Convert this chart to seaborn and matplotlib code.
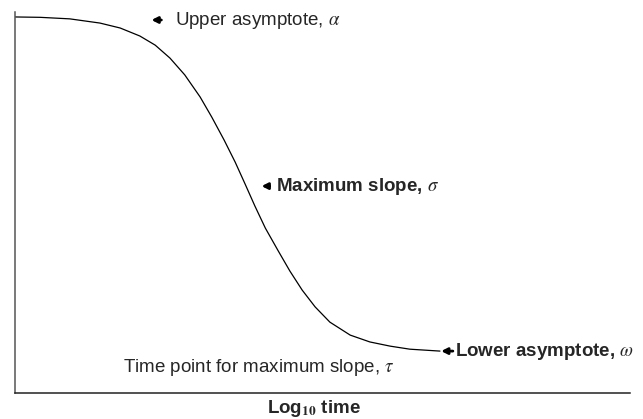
import matplotlib
matplotlib.use("Agg")
import matplotlib.pyplot as plt
import seaborn as sns
import pandas as pd

# Curve (arbitrary units: log10 time vs response)
log_time = [0, 0.41, 0.89, 1.38, 1.71, 2.03, 2.28, 2.52, 2.76, 3.01, 3.20, 3.40,
            3.58, 3.74, 3.90, 4.07, 4.28, 4.47, 4.67, 4.88, 5.12, 5.45, 5.77,
            6.10, 6.42, 6.91]
response = [9.87, 9.86, 9.82, 9.71, 9.58, 9.37, 9.13, 8.79, 8.35, 7.77, 7.24, 6.64,
            6.06, 5.49, 4.91, 4.33, 3.73, 3.20, 2.70, 2.26, 1.86, 1.52, 1.34,
            1.23, 1.15, 1.10]
tau = [3.77]
tick_labels = [""]

sns.set_style("white")
plt.rcParams["font.family"] = ["Liberation Sans", "DejaVu Sans"]
plt.rcParams["mathtext.fontset"] = "stix"

df = pd.DataFrame({"log_time": log_time, "response": response})

fig = plt.figure(figsize=(6.43, 4.19), dpi=100)
ax = fig.add_axes([15 / 643, 26 / 419, 615 / 643, 381 / 419])
sns.lineplot(data=df, x="log_time", y="response", sort=False, estimator=None,
             color="black", linewidth=0.9, ax=ax)
ax.set_xlim(0, 10)
ax.set_ylim(0, 10)
sns.despine(ax=ax)
ax.spines["left"].set_color("#555555")
ax.spines["bottom"].set_color("#222222")
for s in ["left", "bottom"]:
    ax.spines[s].set_linewidth(1.1)
ax.set_xticks(tau)
ax.set_xticklabels(tick_labels)
ax.set_yticks([])
ax.tick_params(axis="x", direction="in", length=7, width=0.9, color="#333333")
ax.set_xlabel("")
ax.set_ylabel("")

fs = 13.5
arrow = dict(arrowstyle="-|>,head_length=0.35,head_width=0.18", lw=2.0,
             color="black", shrinkA=0, shrinkB=0)

ax.annotate("", xy=(2.22, 9.79), xytext=(2.38, 9.79), arrowprops=arrow)
ax.text(2.60, 9.79, "Upper asymptote, $\\alpha$", fontsize=fs,
        va="center", ha="left")

ax.annotate("", xy=(4.01, 5.43), xytext=(4.14, 5.43), arrowprops=arrow)
ax.text(4.24, 5.43, "Maximum slope, $\\sigma$", fontsize=fs,
        fontweight="bold", va="center", ha="left")

ax.annotate("", xy=(6.93, 1.10), xytext=(7.12, 1.10), arrowprops=arrow)
ax.text(7.15, 1.10, "Lower asymptote, $\\omega$", fontsize=fs,
        fontweight="bold", va="center", ha="left")

ax.text(1.76, 0.68, "Time point for maximum slope, $\\tau$", fontsize=fs,
        va="center", ha="left")
fig.text(267 / 643, 1 - 408 / 419, "Log$_{\\mathbf{10}}$ time", fontsize=fs,
         fontweight="bold", va="center", ha="left")

fig.savefig("out.png", dpi=100)
